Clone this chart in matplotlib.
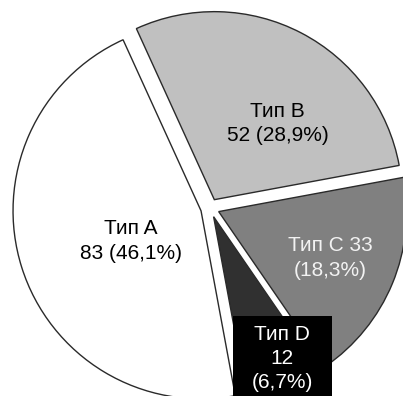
import matplotlib
matplotlib.use("Agg")
import matplotlib.pyplot as plt
from matplotlib.patches import Rectangle
from matplotlib.transforms import IdentityTransform

# Data
categories = ["Тип A", "Тип B", "Тип C", "Тип D"]
counts = [83, 52, 33, 12]

# Styling
colors = ["#ffffff", "#c0c0c0", "#808080", "#303030"]
text_colors = ["#000000", "#000000", "#f2f2f2", "#ffffff"]
# separators between name / count / percentage for each label
seps = [("\n", " "), ("\n", " "), (" ", "\n"), ("\n", "\n")]
# label centres in axis units (pie radius = 1, centre at origin)
label_pos = [(-0.42, -0.175), (0.36, 0.45), (0.64, -0.265), (0.385, -0.80)]

plt.rcParams["font.family"] = ["Liberation Sans", "DejaVu Sans"]

W, H = 403, 396
fig = plt.figure(figsize=(W / 100, H / 100), dpi=100)
ax = fig.add_axes([0, 0, 1, 1])

R_px = 188.0
cx, cy = 210.0, 208.0

total = sum(counts)
wedges, _ = ax.pie(
    counts,
    colors=colors,
    startangle=280.5,
    counterclock=False,
    explode=[0.05] * len(counts),
    radius=1.0,
    wedgeprops=dict(edgecolor="#2a2a2a", linewidth=1.0),
    frame=False,
)
ax.set_aspect("auto")
ax.set_xlim((0 - cx) / R_px, (W - cx) / R_px)
ax.set_ylim((cy - H) / R_px, (cy - 0) / R_px)
ax.axis("off")

texts = []
for i, (name, n) in enumerate(zip(categories, counts)):
    pct = f"{100 * n / total:.1f}".replace(".", ",")
    s1, s2 = seps[i]
    label = f"{name}{s1}{n}{s2}({pct}%)"
    t = ax.text(label_pos[i][0], label_pos[i][1], label, ha="center",
                va="center", fontsize=15, color=text_colors[i],
                linespacing=1.36, zorder=6)
    texts.append(t)

# black background box behind the smallest slice's label
fig.canvas.draw()
ext = texts[3].get_window_extent(fig.canvas.get_renderer())
pad_x, pad_y = 19, 9
box = Rectangle((ext.x0 - pad_x, ext.y0 - pad_y),
                ext.width + 2 * pad_x, ext.height + 2 * pad_y,
                transform=IdentityTransform(), facecolor="#000000",
                edgecolor="none", zorder=5)
ax.add_artist(box)

fig.savefig("out.png", dpi=100)
